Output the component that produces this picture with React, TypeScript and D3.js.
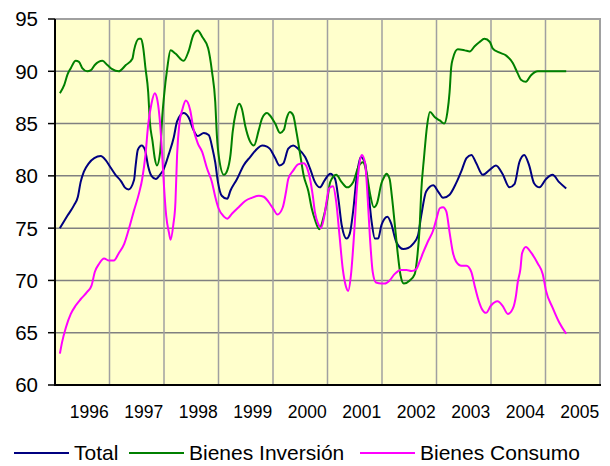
import React from "react";
import * as d3 from "d3";

const years = [1996, 1997, 1998, 1999, 2000, 2001, 2002, 2003, 2004, 2005];
const yTicks = [60, 65, 70, 75, 80, 85, 90, 95];

// [decimal date, value]
const total: [number, number][] = [
  [1996.09, 75.0], [1996.23, 76.2], [1996.35, 77.2], [1996.42, 78.0], [1996.47, 79.4], [1996.53, 80.4],
  [1996.62, 81.2], [1996.72, 81.7], [1996.84, 81.9], [1996.93, 81.5], [1997.02, 80.8], [1997.11, 80.1],
  [1997.21, 79.5], [1997.28, 78.9], [1997.35, 78.7], [1997.45, 79.6], [1997.48, 81.0], [1997.52, 82.5],
  [1997.59, 82.9], [1997.65, 82.5], [1997.71, 80.9], [1997.77, 80.0], [1997.85, 79.7], [1997.94, 80.2],
  [1997.99, 80.6], [1998.09, 82.1], [1998.18, 83.7], [1998.24, 85.2], [1998.36, 86.0], [1998.45, 85.6],
  [1998.54, 84.4], [1998.62, 83.8], [1998.73, 84.1], [1998.82, 83.9], [1998.89, 82.6], [1998.94, 81.3],
  [1998.99, 79.4], [1999.06, 78.1], [1999.16, 77.8], [1999.22, 78.6], [1999.34, 79.7], [1999.46, 81.0],
  [1999.58, 81.8], [1999.71, 82.6], [1999.8, 82.9], [1999.89, 82.8], [1999.94, 82.6], [2000.04, 81.7],
  [2000.12, 81.0], [2000.19, 81.2], [2000.28, 82.6], [2000.37, 82.9], [2000.46, 82.6], [2000.59, 81.8],
  [2000.68, 80.7], [2000.77, 79.4], [2000.86, 78.9], [2000.95, 79.6], [2001.05, 80.2], [2001.14, 79.7],
  [2001.2, 77.8], [2001.26, 75.3], [2001.35, 74.0], [2001.41, 74.5], [2001.47, 76.6], [2001.54, 80.1],
  [2001.61, 81.8], [2001.69, 81.2], [2001.75, 78.5], [2001.81, 75.6], [2001.87, 74.0], [2001.93, 74.0],
  [2001.99, 75.3], [2002.1, 76.1], [2002.17, 75.4], [2002.26, 73.7], [2002.39, 73.0], [2002.48, 73.1],
  [2002.57, 73.5], [2002.66, 74.3], [2002.72, 76.2], [2002.81, 78.5], [2002.94, 79.1], [2003.03, 78.5],
  [2003.12, 77.9], [2003.24, 78.2], [2003.36, 79.3], [2003.46, 80.5], [2003.55, 81.7], [2003.64, 82.0],
  [2003.73, 81.2], [2003.85, 80.1], [2003.98, 80.6], [2004.09, 81.0], [2004.21, 80.2], [2004.34, 78.9],
  [2004.43, 79.2], [2004.52, 81.3], [2004.61, 82.0], [2004.7, 81.0], [2004.79, 79.3], [2004.89, 78.9],
  [2005.01, 79.7], [2005.13, 80.1], [2005.25, 79.4], [2005.38, 78.8],
];

const inversion: [number, number][] = [
  [1996.09, 87.9], [1996.17, 88.7], [1996.23, 89.7], [1996.29, 90.3], [1996.38, 91.0], [1996.44, 90.9],
  [1996.5, 90.3], [1996.59, 90.0], [1996.66, 90.1], [1996.73, 90.6], [1996.87, 91.0], [1996.96, 90.6],
  [1997.05, 90.2], [1997.17, 90.0], [1997.3, 90.6], [1997.42, 91.2], [1997.45, 92.0], [1997.54, 93.1],
  [1997.58, 93.1], [1997.62, 92.2], [1997.66, 90.3], [1997.71, 88.0], [1997.74, 85.2], [1997.79, 83.3],
  [1997.83, 81.7], [1997.87, 81.0], [1997.93, 82.3], [1997.97, 85.8], [1998.0, 87.6], [1998.06, 90.3],
  [1998.12, 92.0], [1998.21, 91.7], [1998.36, 91.0], [1998.45, 91.9], [1998.54, 93.5], [1998.62, 93.9],
  [1998.7, 93.3], [1998.81, 92.2], [1998.88, 90.0], [1998.94, 87.1], [1998.97, 83.9], [1999.01, 81.7],
  [1999.1, 80.1], [1999.16, 80.5], [1999.22, 82.0], [1999.26, 84.2], [1999.32, 86.1], [1999.38, 86.9],
  [1999.43, 86.4], [1999.49, 84.8], [1999.57, 83.4], [1999.65, 82.9], [1999.74, 84.4], [1999.8, 85.5],
  [1999.89, 86.0], [1999.94, 85.8], [2000.04, 85.0], [2000.13, 84.1], [2000.2, 84.4], [2000.25, 85.5],
  [2000.31, 86.1], [2000.37, 85.8], [2000.43, 84.2], [2000.5, 82.0], [2000.56, 80.1], [2000.65, 78.5],
  [2000.71, 76.9], [2000.77, 75.8], [2000.85, 74.9], [2000.92, 75.9], [2000.99, 77.5], [2001.05, 79.4],
  [2001.16, 80.1], [2001.26, 79.4], [2001.36, 78.9], [2001.47, 79.4], [2001.57, 80.9], [2001.65, 81.3],
  [2001.72, 80.2], [2001.78, 78.3], [2001.85, 77.0], [2001.91, 77.4], [2001.99, 79.3], [2002.04, 79.9],
  [2002.08, 80.2], [2002.14, 79.7], [2002.18, 78.1], [2002.23, 75.6], [2002.28, 73.0], [2002.34, 70.5],
  [2002.4, 69.7], [2002.51, 70.0], [2002.6, 70.6], [2002.65, 72.4], [2002.69, 75.0], [2002.72, 78.5],
  [2002.77, 81.7], [2002.83, 84.9], [2002.88, 86.1], [2002.97, 85.6], [2003.06, 85.3], [2003.14, 85.0],
  [2003.2, 86.1], [2003.24, 88.0], [2003.27, 90.4], [2003.3, 91.2], [2003.39, 92.1], [2003.52, 92.0],
  [2003.61, 91.9], [2003.7, 92.4], [2003.79, 92.8], [2003.88, 93.1], [2003.98, 92.8], [2004.03, 92.2],
  [2004.15, 91.8], [2004.28, 91.5], [2004.4, 90.8], [2004.49, 89.8], [2004.55, 89.2], [2004.64, 89.0],
  [2004.73, 89.6], [2004.86, 90.0], [2005.13, 90.0], [2005.38, 90.0],
];

const consumo: [number, number][] = [
  [1996.09, 63.0], [1996.13, 64.1], [1996.2, 65.5], [1996.29, 66.8], [1996.38, 67.6], [1996.47, 68.2],
  [1996.59, 68.9], [1996.67, 69.5], [1996.73, 70.8], [1996.81, 71.6], [1996.9, 72.1], [1996.99, 71.9],
  [1997.08, 71.9], [1997.17, 72.6], [1997.27, 73.5], [1997.36, 75.0], [1997.45, 76.7], [1997.54, 78.3],
  [1997.6, 79.7], [1997.66, 82.0], [1997.71, 84.9], [1997.77, 86.9], [1997.83, 87.9], [1997.88, 87.2],
  [1997.93, 84.9], [1997.97, 81.7], [1998.0, 79.0], [1998.04, 76.2], [1998.09, 74.6], [1998.12, 73.9],
  [1998.17, 75.3], [1998.21, 77.5], [1998.24, 82.0], [1998.28, 84.9], [1998.34, 86.4], [1998.4, 87.2],
  [1998.48, 86.3], [1998.54, 84.5], [1998.62, 83.1], [1998.7, 82.3], [1998.79, 80.7], [1998.88, 79.4],
  [1998.94, 78.0], [1999.0, 76.9], [1999.1, 76.1], [1999.16, 75.9], [1999.25, 76.4], [1999.37, 77.0],
  [1999.49, 77.6], [1999.61, 77.9], [1999.74, 78.1], [1999.83, 78.0], [1999.92, 77.5], [2000.01, 76.8],
  [2000.08, 76.3], [2000.18, 77.0], [2000.24, 78.5], [2000.28, 79.7], [2000.37, 80.5], [2000.46, 81.1],
  [2000.56, 81.2], [2000.63, 80.7], [2000.68, 79.7], [2000.73, 78.1], [2000.77, 76.5], [2000.83, 75.4],
  [2000.88, 75.0], [2000.94, 76.1], [2000.99, 77.8], [2001.03, 78.8], [2001.1, 79.0], [2001.16, 77.5],
  [2001.22, 74.3], [2001.28, 71.1], [2001.34, 69.4], [2001.38, 69.0], [2001.43, 70.5], [2001.49, 74.6],
  [2001.54, 78.8], [2001.59, 81.3], [2001.63, 82.0], [2001.69, 81.2], [2001.73, 78.5], [2001.78, 74.0],
  [2001.83, 70.8], [2001.89, 69.8], [2001.99, 69.7], [2002.05, 69.7], [2002.14, 70.0], [2002.23, 70.6],
  [2002.35, 71.0], [2002.45, 71.0], [2002.54, 70.9], [2002.63, 71.1], [2002.69, 71.8], [2002.75, 72.6],
  [2002.84, 73.7], [2002.94, 74.8], [2003.0, 75.9], [2003.06, 76.9], [2003.12, 77.0], [2003.18, 76.6],
  [2003.24, 74.6], [2003.3, 72.7], [2003.36, 71.8], [2003.46, 71.4], [2003.55, 71.4], [2003.64, 70.8],
  [2003.7, 69.5], [2003.76, 68.3], [2003.83, 67.3], [2003.91, 66.9], [2004.0, 67.6], [2004.12, 68.0],
  [2004.21, 67.6], [2004.31, 66.8], [2004.4, 67.3], [2004.46, 68.6], [2004.49, 69.8], [2004.54, 71.1],
  [2004.57, 72.6], [2004.64, 73.2], [2004.73, 72.7], [2004.86, 71.6], [2004.95, 70.6], [2005.01, 69.0],
  [2005.13, 67.4], [2005.25, 66.0], [2005.38, 64.9],
];

const seriesNames = ["Total", "Bienes Inversión", "Bienes Consumo"];
const seriesColors = ["#000080", "#008000", "#FF00FF"];
const seriesData = [total, inversion, consumo];

const W = 610;
const H = 466;
const left = 55;
const right = 600;
const top = 19;
const bottom = 385;

export default function App() {
  const x = d3.scaleLinear().domain([1996, 2006]).range([left, right]);
  const y = d3.scaleLinear().domain([60, 95]).range([bottom, top]);
  const line = d3
    .line<[number, number]>()
    .x((d) => x(d[0]))
    .y((d) => y(d[1]))
    .curve(d3.curveMonotoneX);

  const font = "Arial, 'Liberation Sans', sans-serif";
  const gridYears = d3.range(1997, 2006);
  const legendItems = [
    { lx: 14, tx: 74 },
    { lx: 129, tx: 189 },
    { lx: 360, tx: 420 },
  ];

  return (
    <svg
      width={W}
      height={H}
      style={{ position: "absolute", left: 0, top: 0, background: "#fff" }}
    >
      <rect x={left} y={top} width={right - left} height={bottom - top} fill="#FFFFCC" />
      {yTicks.slice(1, -1).map((t) => (
        <line key={"gy" + t} x1={left} x2={right} y1={y(t)} y2={y(t)} stroke="#808080" strokeWidth={1.5} />
      ))}
      {gridYears.map((t) => (
        <line key={"gx" + t} x1={x(t)} x2={x(t)} y1={top} y2={bottom} stroke="#a0a0a0" strokeWidth={1.5} />
      ))}
      <polyline
        points={`${left},${top} ${right},${top} ${right},${bottom}`}
        fill="none"
        stroke="#a0a0a0"
        strokeWidth={2}
      />
      {seriesData.map((s, i) => (
        <path key={"s" + i} d={line(s) || ""} fill="none" stroke={seriesColors[i]} strokeWidth={2} strokeLinejoin="round" />
      ))}
      <line x1={left} x2={left} y1={top} y2={bottom + 1} stroke="#000" strokeWidth={2} />
      <line x1={left} x2={right + 1} y1={bottom} y2={bottom} stroke="#000" strokeWidth={2} />
      {yTicks.map((t) => (
        <g key={"yt" + t}>
          <line x1={left - 7} x2={left} y1={y(t)} y2={y(t)} stroke="#000" strokeWidth={1.5} />
          <text x={38} y={y(t)} dy="0.36em" textAnchor="end" fontFamily={font} fontSize={20.5} fill="#000">
            {t}
          </text>
        </g>
      ))}
      {years.map((t) => (
        <text key={"xt" + t} x={x(t + 0.63)} y={418} textAnchor="middle" fontFamily={font} fontSize={17.5} fill="#000">
          {t}
        </text>
      ))}
      {seriesNames.map((n, i) => (
        <g key={"lg" + i}>
          <line x1={legendItems[i].lx} x2={legendItems[i].lx + 55} y1={453} y2={453} stroke={seriesColors[i]} strokeWidth={2} />
          <text x={legendItems[i].tx} y={459.5} fontFamily={font} fontSize={21} fill="#000">
            {n}
          </text>
        </g>
      ))}
    </svg>
  );
}
